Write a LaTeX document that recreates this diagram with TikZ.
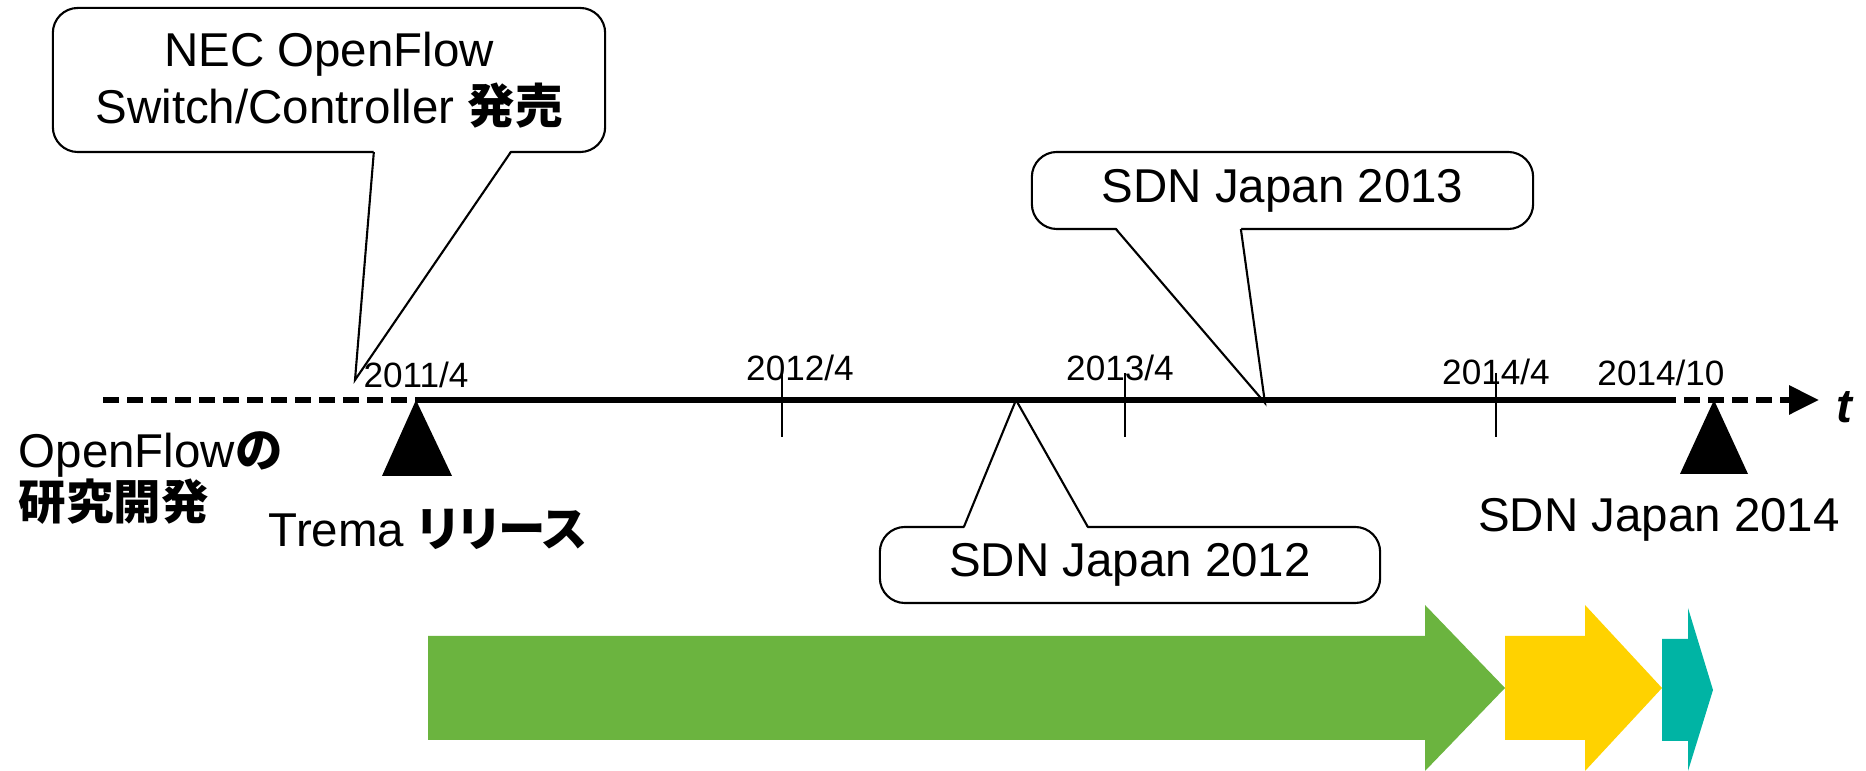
\documentclass[tikz,border=0pt]{standalone}
\usepackage{fontspec}
\setmainfont{Liberation Sans}
\newfontfamily\jpfont{Noto Sans CJK JP}[RawFeature=+palt]
\usepackage{tikz}
\usetikzlibrary{positioning}
\usetikzlibrary{calc}
\usetikzlibrary{arrows.meta}

\definecolor{phasegreen}{RGB}{107,180,63}
\definecolor{phaseyellow}{RGB}{255,210,0}
\definecolor{phaseteal}{RGB}{0,180,164}

\newcommand{\boxfont}{\fontsize{13.5}{16.2}\selectfont}
\newcommand{\tickfont}{\fontsize{10}{12}\selectfont}

\begin{document}
\begin{tikzpicture}
[x=0.01cm,y=-0.01cm,
 callbox/.style={shape=rectangle,draw,rounded corners=0.25cm,line width=0.6pt,outer sep=0pt,font=\boxfont},
 pointer/.style={line width=0.6pt},
 datelabel/.style={inner sep=0pt,font=\tickfont},
 caption/.style={inner sep=0pt,font=\boxfont},
 dashline/.style={line width=1.7pt,dash pattern=on 0.16cm off 0.08cm},
 mainline/.style={line width=1.7pt},
 tickmark/.style={line width=0.6pt},
 marker/.style={fill=black}]

\useasboundingbox (0,0) rectangle (1866,771);

% callouts
\draw (329,80) node (nec) [callbox,minimum width=5.52cm,minimum height=1.44cm,align=center]
	{NEC OpenFlow\\Switch/Controller {\jpfont\bfseries 発売}};
\draw (1282.5,190.5) node (sdn13) [callbox,minimum width=5.01cm,minimum height=0.77cm] {SDN Japan 2013};
\draw (1130,565) node (sdn12) [callbox,minimum width=5.00cm,minimum height=0.76cm] {SDN Japan 2012};

\coordinate (necTip) at (355,380);
\coordinate (sdn13Tip) at (1265,403);
\coordinate (sdn12Tip) at (1016,400);

\fill [white] ($(nec.south west)+(321,-2)$) -- (necTip) -- ($(nec.south west)+(458,-2)$) -- cycle;
\draw [pointer] ($(nec.south west)+(321,0)$) -- (necTip) -- ($(nec.south west)+(458,0)$);

\fill [white] ($(sdn13.south west)+(84,-2)$) -- (sdn13Tip) -- ($(sdn13.south west)+(209,-2)$) -- cycle;
\draw [pointer] ($(sdn13.south west)+(84,0)$) -- (sdn13Tip) -- ($(sdn13.south west)+(209,0)$);

\fill [white] ($(sdn12.north west)+(84,2)$) -- (sdn12Tip) -- ($(sdn12.north west)+(208,2)$) -- cycle;
\draw [pointer] ($(sdn12.north west)+(84,0)$) -- (sdn12Tip) -- ($(sdn12.north west)+(208,0)$);

% time axis
\coordinate (tlStart) at (103,400);
\coordinate (trema) at (416,400);
\coordinate (tlNow) at (1660,400);
\coordinate (tlEnd) at (1819,400);
\coordinate (sdn14) at (1714,400);

\draw [dashline] (tlStart) -- (trema);
\draw [mainline] (trema) -- (tlNow);
\draw [dashline,-{Triangle[length=0.3cm,width=0.28cm]}] (tlNow) -- (tlEnd);

\draw [tickmark] (782,373) -- (782,437);
\draw [tickmark] (1125,373) -- (1125,437);
\draw [tickmark] (1496,373) -- (1496,437);

\fill [marker] (trema) -- ++(-34,76) -- ++(70,0) -- cycle;
\fill [marker] (sdn14) -- ++(-34,74) -- ++(68,0) -- cycle;

\draw (416,375) node (d2011) [datelabel] {2011/4};
\draw (800,368) node (d2012) [datelabel] {2012/4};
\draw (1120,368) node (d2013) [datelabel] {2013/4};
\draw (1496,372) node (d2014) [datelabel] {2014/4};
\draw (1661,373) node (d2014b) [datelabel] {2014/10};

\draw (18,478) node (ofdev) [caption,anchor=west,align=left,font=\fontsize{13.5}{14.8}\selectfont]
	{OpenFlow{\jpfont\bfseries の}\\{\jpfont\bfseries 研究開発}};
\draw (428,529) node (trel) [caption] {Trema {\jpfont\bfseries リリース}};
\draw (1659,520) node (sdn14cap) [caption] {SDN Japan 2014};
\draw (1845,407) node (taxis) [caption] {\textbf{\textit{t}}};

% phases
\fill [phasegreen] (428,636) -- (1425,636) -- (1425,605) -- (1505,688) -- (1425,771) -- (1425,740) -- (428,740) -- cycle;
\fill [phaseyellow] (1505,636) -- (1585,636) -- (1585,605) -- (1662,688) -- (1585,771) -- (1585,740) -- (1505,740) -- cycle;
\fill [phaseteal] (1662,639) -- (1688,639) -- (1688,608) -- (1713,690) -- (1688,771) -- (1688,741) -- (1662,741) -- cycle;

\end{tikzpicture}
\end{document}
